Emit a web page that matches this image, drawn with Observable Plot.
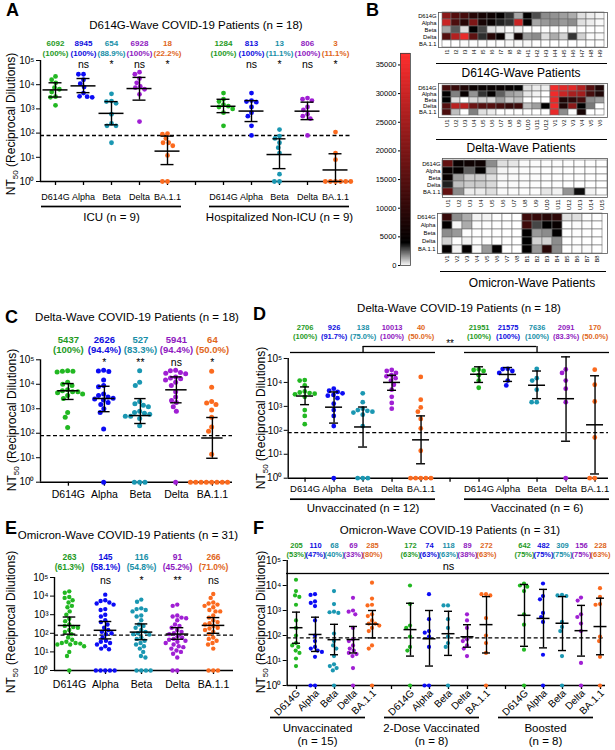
<!DOCTYPE html>
<html><head><meta charset="utf-8">
<script src="https://cdn.jsdelivr.net/npm/d3@7"></script>
<script src="https://cdn.jsdelivr.net/npm/@observablehq/plot@0.6"></script>
<style>
body{margin:0;background:#fff;}
#fig{position:relative;width:615px;height:750px;overflow:hidden;font-family:"Liberation Sans",Arial,Helvetica,sans-serif;color:#000;}
svg{overflow:visible;}
.t{position:absolute;white-space:nowrap;transform:translate(-50%,-50%);}
.letter{position:absolute;font-weight:bold;font-size:18px;}
.ylab{position:absolute;white-space:nowrap;font-size:12px;transform:translate(-50%,-50%) rotate(-90deg);}
.ylab sub{font-size:8px;}
.uline{position:absolute;height:0;border-top:1.6px solid #000;}
</style></head><body><div id="fig"></div>
<script>
// ---------------- DATA ----------------
const variants = ["D614G", "Alpha", "Beta", "Delta", "BA.1.1"];
const variantColors = ["#22b822", "#0c0cf5", "#1a97b2", "#a01fd4", "#fb6a1e"];
const textColors = ["#1e9a1e", "#0d0de0", "#178fa8", "#8e18c0", "#e0661a"];
const superscripts = ["⁰", "¹", "²", "³", "⁴", "⁵"];
const yTickValues = [1, 10, 100, 1000, 10000, 100000];
const LOD = 80;

// Panel A: D614G-wave
const aGroupLabels = ["ICU (n = 9)", "Hospitalized Non-ICU (n = 9)"];
const aGM = [[6092, 8945, 654, 6928, 18], [1284, 813, 13, 806, 3]];
const aPct = [["100%", "100%", "88.9%", "100%", "22.2%"], ["100%", "100%", "11.1%", "100%", "11.1%"]];
const aSig = [["", "ns", "*", "ns", "*"], ["", "ns", "*", "ns", "*"]];
const aLo = [[3100, 4700, 220, 2300, 5], [700, 300, 3.4, 360, 1]];
const aHi = [[12000, 18000, 2000, 20000, 75], [2500, 2200, 58, 1900, 14]];
const aICU = [
  [22000, 16000, 12000, 7500, 6500, 5000, 3200, 3000, 1400],
  [27000, 27000, 16000, 11000, 8000, 4500, 3300, 3200, 3000],
  [4200, 2100, 2000, 1700, 600, 250, 200, 200, 40],
  [33000, 27000, 18000, 12000, 8500, 7500, 6500, 4000, 300],
  [95, 90, 60, 40, 40, 30, 12, 1, 1]
];
const aNonICU = [
  [4500, 2500, 2000, 1500, 1300, 1200, 1000, 700, 200],
  [4500, 2200, 2000, 1900, 1200, 700, 500, 200, 80],
  [140, 75, 60, 40, 25, 15, 2, 1, 1],
  [2800, 2500, 2200, 1200, 900, 600, 500, 400, 80],
  [110, 15, 8, 1, 1, 1, 1, 1, 1]
];

// Panel C: Delta-wave all
const cGM = [5437, 2626, 527, 5941, 64];
const cPct = ["100%", "94.4%", "83.3%", "94.4%", "50.0%"];
const cSig = ["", "*", "**", "ns", "*"];
const cLo = [2400, 760, 250, 1750, 9.5];
const cHi = [10700, 8300, 2600, 20000, 440];
const cDots = [
  [36000, 34000, 34000, 32000, 12000, 10000, 9000, 6000, 5500, 5000, 5000, 4500, 4000, 3500, 2600, 700, 450, 170],
  [37000, 35000, 33000, 15000, 9000, 8000, 4000, 3500, 3000, 2700, 2500, 2300, 1800, 1500, 1000, 700, 150, 1],
  [36000, 12000, 9000, 2000, 1600, 1400, 1200, 800, 700, 650, 600, 500, 500, 400, 200, 1, 1, 1],
  [37000, 36000, 30000, 28000, 27000, 20000, 18000, 17000, 15000, 12000, 9000, 5000, 3000, 2200, 1800, 1200, 800, 1],
  [34000, 7500, 2000, 1700, 1500, 900, 450, 180, 120, 14, 1, 1, 1, 1, 1, 1, 1, 1]
];

// Panel D: Delta-wave by vaccination
const dGroupLabels = ["Unvaccinated (n = 12)", "Vaccinated (n = 6)"];
const dGM = [[2706, 926, 138, 10013, 40], [21951, 21575, 7636, 2091, 170]];
const dPct = [["100%", "91.7%", "75.0%", "100%", "50.0%"], ["100%", "100%", "100%", "83.3%", "50.0%"]];
const dLo = [[1180, 200, 20, 4700, 4], [10000, 11000, 2100, 35, 1.5]];
const dHi = [[6500, 4000, 940, 20000, 400], [45000, 42000, 30000, 117000, 19000]];
const dUnvacc = [
  [12500, 12000, 7500, 4200, 3800, 3600, 3400, 3200, 2500, 700, 400, 180],
  [5500, 4500, 4000, 3500, 3000, 2800, 2200, 1300, 700, 400, 150, 1],
  [3500, 1500, 800, 700, 650, 600, 550, 450, 150, 1, 1, 1],
  [33000, 30000, 25000, 20000, 18000, 15000, 12000, 8000, 5000, 2500, 1400, 800],
  [17000, 1900, 900, 600, 300, 120, 14, 1, 1, 1, 1, 1]
];
const dVacc = [
  [35000, 33000, 30000, 20000, 12000, 6000],
  [37000, 36000, 30000, 25000, 12000, 7500],
  [37000, 15000, 12000, 5000, 1500, 1500],
  [35000, 25000, 12000, 5500, 1500, 1],
  [34000, 8000, 1600, 50, 1, 1]
];
const dComparison = ["Beta", "Beta", "**"];

// Panel E: Omicron-wave all
const eGM = [263, 145, 116, 91, 266];
const ePct = ["61.3%", "58.1%", "54.8%", "45.2%", "71.0%"];
const eSig = ["", "ns", "*", "**", "ns"];
const eLo = [90, 50, 45, 48, 100];
const eHi = [750, 430, 320, 200, 700];
const eDots = [
  [18000, 15000, 9000, 8000, 6000, 4500, 3000, 2500, 1500, 1000, 600, 450, 300, 250, 220, 200, 150, 120, 90, 60, 45, 35, 30, 30, 28, 25, 25, 20, 10, 6, 1],
  [12000, 6000, 5500, 4500, 4000, 3500, 2000, 1800, 1000, 800, 500, 400, 300, 200, 150, 120, 100, 90, 60, 40, 35, 30, 25, 20, 15, 14, 1, 1, 1, 1, 1],
  [6500, 5000, 2200, 2000, 1800, 1500, 900, 800, 500, 300, 250, 200, 150, 120, 100, 90, 85, 60, 50, 40, 30, 25, 20, 15, 10, 6, 5, 1, 1, 1, 1],
  [3500, 3000, 900, 800, 700, 650, 500, 300, 250, 200, 150, 120, 100, 90, 70, 60, 50, 45, 40, 35, 30, 25, 20, 18, 15, 12, 10, 8, 5, 1, 1],
  [13000, 8000, 4500, 4000, 3500, 3000, 2500, 1800, 1500, 1500, 900, 700, 500, 400, 350, 300, 250, 200, 180, 150, 120, 90, 60, 50, 40, 30, 25, 15, 1, 1, 1]
];

// Panel F: Omicron-wave by vaccination
const fGroupLabels = ["Unvaccinated\n(n = 15)", "2-Dose Vaccinated\n(n = 8)", "Boosted\n(n = 8)"];
const fGM = [[205, 110, 68, 69, 285], [172, 74, 118, 89, 272], [642, 482, 309, 156, 228]];
const fPct = [["53%", "47%", "40%", "33%", "80%"], ["63%", "63%", "63%", "38%", "63%"], ["75%", "75%", "75%", "75%", "63%"]];
const fLo = [[49, 23, 17, 20, 80], [15, 6, 16, 34, 20], [37, 32, 25, 15, 17]];
const fHi = [[860, 540, 280, 230, 1000], [1950, 1000, 930, 270, 3600], [11000, 7000, 3600, 1600, 3100]];
const fUnvacc = [
  [17000, 6000, 4000, 3500, 1700, 400, 200, 100, 50, 40, 35, 25, 20, 12, 6],
  [4500, 4200, 2300, 2000, 1500, 400, 100, 60, 35, 30, 25, 22, 14, 1, 1],
  [6000, 1800, 900, 850, 800, 120, 60, 40, 30, 15, 7, 6, 5, 4, 1],
  [3200, 1000, 900, 700, 200, 70, 60, 40, 30, 25, 20, 18, 15, 5, 1],
  [13000, 3000, 1700, 1600, 700, 600, 400, 300, 300, 250, 200, 150, 40, 30, 1]
];
const f2Dose = [
  [10000, 1800, 250, 200, 90, 35, 25, 1],
  [4500, 450, 150, 130, 90, 35, 1, 1],
  [1600, 1600, 450, 200, 90, 50, 35, 1],
  [700, 400, 200, 70, 60, 40, 30, 15],
  [4500, 4500, 4000, 500, 100, 50, 20, 1]
];
const fBoosted = [
  [12000, 10000, 9000, 6000, 700, 270, 27, 1],
  [12000, 3800, 2800, 800, 550, 350, 17, 1],
  [4200, 4000, 3800, 350, 220, 150, 15, 1],
  [3300, 2500, 700, 550, 300, 150, 8, 1],
  [7800, 3500, 1800, 1700, 90, 60, 14, 1]
];
const fOverallSig = "ns";

// Panel B: heatmaps (NT50 per patient)
const hmRows = ["D614G", "Alpha", "Beta", "Delta", "BA.1.1"];
const hm1Cols = ["I1","I2","I3","I4","I5","I6","I7","I8","I9","H1","H2","H3","H4","H5","H6","H7","H8","H9"];
const hm1Vals = [
  [22000, 15000, 13000, 9000, 7000, 6000, 4500, 3200, 1400, 4200, 2800, 1800, 1700, 1500, 1300, 500, 300, 150],
  [30000, 14000, 9000, 20000, 7000, 5000, 3500, 3200, 30000, 4500, 1400, 1600, 1800, 1600, 1800, 500, 300, 100],
  [1400, 2600, 500, 4000, 2900, 500, 250, 40, 250, 20, 10, 20, 60, 30, 80, 20, 10, 1],
  [15000, 27000, 34000, 16000, 3300, 9000, 5000, 400, 6000, 1600, 1800, 500, 1300, 700, 3200, 700, 80, 80],
  [1, 1, 60, 40, 40, 30, 12, 95, 90, 110, 15, 8, 1, 1, 1, 1, 1, 1]
];
const hm2Cols = ["U1","U2","U3","U4","U5","U6","U7","U8","U9","U10","U11","U12","V1","V2","V3","V4","V5","V6"];
const hm2Vals = [
  [13000, 11000, 8000, 5500, 5200, 5000, 5000, 4800, 4200, 500, 300, 250, 35000, 33000, 33000, 27000, 15000, 8000],
  [4500, 2000, 5000, 1700, 3200, 4500, 2500, 1500, 1300, 400, 200, 1, 35000, 30000, 26000, 25000, 13000, 8000],
  [4000, 500, 1, 600, 700, 600, 1500, 800, 1000, 1, 1, 1, 34000, 8000, 10000, 13000, 1800, 1500],
  [15000, 28000, 28000, 18000, 15000, 15000, 13000, 11000, 12000, 1000, 1500, 4000, 35000, 8000, 22000, 4000, 2100, 1],
  [14000, 1000, 1, 2000, 500, 300, 1, 14, 1, 1, 1, 1, 34000, 1800, 50, 7000, 1, 1]
];
const hm3Cols = ["U1","U2","U3","U4","U5","U6","U7","U8","U9","U10","U11","U12","U13","U14","U15"];
const hm3Vals = [
  [17000, 5000, 6000, 6000, 1800, 500, 400, 100, 60, 50, 40, 30, 30, 25, 10],
  [5000, 4500, 2500, 4200, 1000, 150, 100, 60, 40, 30, 25, 20, 15, 14, 1],
  [5000, 1500, 800, 800, 500, 100, 80, 60, 40, 30, 20, 15, 10, 5, 1],
  [3500, 1000, 800, 800, 600, 100, 80, 60, 40, 30, 25, 20, 15, 10, 1],
  [17000, 1800, 300, 300, 500, 100, 60, 50, 40, 400, 200, 1700, 3800, 200, 30]
];
const hm4Cols = ["V1","V2","V3","V4","V5","V6","V7","V8","B1","B2","B3","B4","B5","B6","B7","B8"];
const hm4Vals = [
  [11000, 1800, 1300, 200, 200, 50, 30, 1, 12000, 11000, 9000, 10000, 500, 500, 60, 27],
  [4500, 150, 1300, 60, 40, 30, 14, 1, 12000, 2900, 4000, 5000, 17, 60, 30, 1],
  [1800, 1600, 40, 20, 15, 10, 5, 1, 4200, 1600, 1800, 4200, 15, 40, 20, 1],
  [700, 20, 200, 30, 25, 20, 10, 1, 4000, 700, 700, 1800, 8, 30, 20, 1],
  [4500, 200, 4500, 90, 1600, 4500, 14, 1, 4200, 1600, 9000, 1800, 14, 60, 80, 1]
];
const colorbarTicks = [0, 5000, 10000, 15000, 20000, 25000, 30000, 35000];
const colorStops = [0, 4000, 37000];
const colorStopColors = ["#ffffff", "#000000", "#ff2e2e"];

// ---------------- RENDER ----------------
const FONT = "'Liberation Sans', Arial, Helvetica, sans-serif";
const fig = document.getElementById("fig");
function place(node, left, top) {
  node.style.position = "absolute"; node.style.left = left + "px"; node.style.top = top + "px";
  fig.appendChild(node);
}
function addText(cls, html, x, y, style) {
  const d = document.createElement("div");
  d.className = cls; d.innerHTML = html;
  d.style.left = x + "px"; d.style.top = y + "px";
  if (style) Object.assign(d.style, style);
  fig.appendChild(d);
}
const supFmt = d => "10" + superscripts[Math.round(Math.log10(d))];
const C = () => "c";

function dotPanel(p) {
  const dom = [], cats = [], dots = [], stats = [], mids = [];
  p.groups.forEach((g, gi) => {
    if (gi > 0) dom.push("gap" + gi);
    variants.forEach((v, vi) => {
      const key = gi + "|" + v;
      dom.push(key);
      cats.push({key, label: v, gi, vi});
      g.dots[vi].forEach(val => dots.push({key, v: val, vi}));
      stats.push({key, vi, gm: g.gm[vi], pct: "(" + g.pct[vi] + ")", sig: g.sig ? g.sig[vi] : "", lo: g.lo[vi], hi: g.hi[vi]});
    });
    if (g.label) mids.push({key: gi + "|Beta", label: g.label});
  });
  const style = {fontFamily: FONT, fontSize: "10px", overflow: "visible", background: "none", color: "#000"};
  const common = {width: p.width, height: p.height, marginTop: p.mt, marginBottom: p.mb, style};
  const base = Plot.plot({
    ...common, marginLeft: p.axisLeft, marginRight: p.width - p.axisRight,
    x: {domain: [0, 1], axis: null},
    y: {type: "log", domain: [1, 1e5], ticks: yTickValues, tickFormat: supFmt, tickSize: 4, tickPadding: 2, label: null},
    marks: [
      Plot.ruleX([0], {strokeWidth: 1.4}),
      Plot.ruleY([1], {strokeWidth: 1.4}),
      Plot.ruleY([LOD], {strokeDasharray: "4,2.5", strokeWidth: 1.4})
    ]
  });
  place(base, p.left, p.top);
  const marks = [
    Plot.ruleX(dom, {fx: d => d, x: C, y1: () => 1, y2: () => 1, insetTop: 4, strokeWidth: 1.3}),
    Plot.dot(dots, Plot.dodgeX({anchor: "middle", padding: p.pad}, {fx: "key", y: "v", r: p.r, dx: -p.step / 2, fill: d => variantColors[d.vi]})),
    Plot.ruleX(stats, {fx: "key", x: C, y1: "lo", y2: "hi", strokeWidth: 1.4}),
    Plot.tickY(stats, {fx: "key", x: C, y: "lo", insetLeft: p.capInset, insetRight: p.capInset, strokeWidth: 1.4}),
    Plot.tickY(stats, {fx: "key", x: C, y: "hi", insetLeft: p.capInset, insetRight: p.capInset, strokeWidth: 1.4}),
    Plot.tickY(stats, {fx: "key", x: C, y: "gm", insetLeft: p.meanInset, insetRight: p.meanInset, strokeWidth: 1.5}),
    Plot.text(stats, {fx: "key", x: C, y: () => 1e5, dy: p.gmDy, text: d => String(d.gm), fill: d => textColors[d.vi], fontWeight: "bold", fontSize: p.numSize}),
    Plot.text(stats, {fx: "key", x: C, y: () => 1e5, dy: p.pctDy, text: "pct", fill: d => textColors[d.vi], fontWeight: "bold", fontSize: p.numSize}),
    Plot.text(stats.filter(s => s.sig), {fx: "key", x: C, y: () => 1e5, dy: p.sigDy, text: "sig", fontSize: p.sigSize}),
    Plot.text(cats, {fx: "key", x: C, y: () => 1, dy: p.catDy, dx: p.catDx || 0, text: "label", fontSize: p.catSize, rotate: p.catRotate || 0, textAnchor: p.catRotate ? "end" : "middle"})
  ];
  if (mids.length) {
    marks.push(Plot.ruleY(cats, {fx: "key", y: () => 1, dy: p.ulDy, dx: p.ulDx || 0, strokeWidth: 1.7}));
    marks.push(Plot.text(mids, {fx: "key", x: C, y: () => 1, dy: p.glDy, dx: p.glDx || 0, text: "label", fontSize: 11.5, lineAnchor: "top", lineHeight: 1.12}));
  }
  if (p.extra) marks.push(...p.extra(dom, cats));
  const fp = Plot.plot({
    ...common, marginLeft: p.facetLeft, marginRight: p.width - p.facetLeft - p.step * dom.length,
    fx: {domain: dom, padding: 0, axis: null},
    x: {type: "band", domain: ["c"], padding: 0, axis: null},
    y: {type: "log", domain: [1, 1e5], axis: null},
    color: {type: "identity"},
    marks
  });
  place(fp, p.left, p.top);
}

// Panel A
dotPanel({
  left: 0, top: 0, width: 352, height: 226, mt: 60, mb: 45,
  axisLeft: 40, axisRight: 350, facetLeft: 41, step: 28,
  r: 2.4, pad: 0.3, capInset: 7.5, meanInset: 1.5,
  numSize: 8, gmDy: -17, pctDy: -7, sigDy: 4, sigSize: 10.5,
  catDy: 16, catSize: 9, ulDy: 25, glDy: 30,
  groups: [0, 1].map(gi => ({label: aGroupLabels[gi], gm: aGM[gi], pct: aPct[gi], sig: aSig[gi], lo: aLo[gi], hi: aHi[gi], dots: gi === 0 ? aICU : aNonICU}))
});

// Panel C
dotPanel({
  left: 0, top: 300, width: 240, height: 202, mt: 59.3, mb: 20.3,
  axisLeft: 40, axisRight: 232, facetLeft: 48.6, step: 36.7,
  r: 2.5, pad: 0.3, capInset: 11.8, meanInset: 6.8,
  numSize: 9.5, gmDy: -20, pctDy: -9.5, sigDy: 3, sigSize: 10.5,
  catDy: 12.5, catSize: 10.5,
  groups: [{gm: cGM, pct: cPct, sig: cSig, lo: cLo, hi: cHi, dots: cDots}]
});

// Panel D
const D = {
  left: 250, top: 300, width: 365, height: 217.7, mt: 58, mb: 40,
  axisLeft: 37.7, axisRight: 358, facetLeft: 36.95, step: 29.5,
  r: 2.4, pad: 0.3, capInset: 10, meanInset: 6,
  numSize: 7.5, gmDy: -31, pctDy: -22, sigDy: 0, sigSize: 10,
  catDy: 11, catSize: 9.5, ulDy: 21, glDy: 24.5,
  groups: [
    {label: dGroupLabels[0], gm: dGM[0], pct: dPct[0], lo: dLo[0], hi: dHi[0], dots: dUnvacc},
    {label: dGroupLabels[1], gm: dGM[1], pct: dPct[1], lo: dLo[1], hi: dHi[1], dots: dVacc}
  ]
};
D.extra = (dom, cats) => {
  const a = "0|" + dComparison[0], b = "1|" + dComparison[1];
  const ia = dom.indexOf(a), ib = dom.indexOf(b);
  const inner = dom.slice(ia + 1, ib);
  const half = D.step / 2;
  return [
    Plot.ruleY(cats, {fx: "key", y: () => 1e5, dy: -6, strokeWidth: 1.3}),
    Plot.ruleY(inner, {fx: d => d, y: () => 1e5, dy: -12, strokeWidth: 1.3}),
    Plot.ruleY([a], {fx: d => d, y: () => 1e5, dy: -12, insetLeft: half, strokeWidth: 1.3}),
    Plot.ruleY([b], {fx: d => d, y: () => 1e5, dy: -12, insetRight: half, strokeWidth: 1.3}),
    Plot.ruleX([a, b], {fx: d => d, x: C, y1: () => 1e5, y2: () => 1e5, dy: -6, insetBottom: 6, strokeWidth: 1.3}),
    Plot.text([inner[Math.floor(inner.length / 2)]], {fx: d => d, x: C, y: () => 1e5, dy: -15, text: () => dComparison[2], fontSize: 10})
  ];
};
dotPanel(D);

// Panel E
dotPanel({
  left: 0, top: 500, width: 240, height: 190, mt: 77, mb: 20,
  axisLeft: 54, axisRight: 233, facetLeft: 50, step: 36.5,
  r: 2.2, pad: 0.3, capInset: 11.7, meanInset: 6.7,
  numSize: 8.5, gmDy: -20, pctDy: -10, sigDy: 3, sigSize: 10.5,
  catDy: 14, catSize: 10.5,
  groups: [{gm: eGM, pct: ePct, sig: eSig, lo: eLo, hi: eHi, dots: eDots}]
});

// Panel F
const F = {
  left: 250, top: 500, width: 365, height: 250, mt: 60, mb: 65,
  axisLeft: 36.7, axisRight: 355, facetLeft: 35.5, step: 19,
  r: 2.1, pad: 0.3, capInset: 5.5, meanInset: 3,
  numSize: 7.5, gmDy: -15, pctDy: -6, sigDy: 0, sigSize: 10,
  catDy: 6, catDx: 2, catSize: 10, catRotate: -45, ulDy: 32, ulDx: -16, glDy: 37.5, glDx: -17,
  groups: [
    {label: fGroupLabels[0], gm: fGM[0], pct: fPct[0], lo: fLo[0], hi: fHi[0], dots: fUnvacc},
    {label: fGroupLabels[1], gm: fGM[1], pct: fPct[1], lo: fLo[1], hi: fHi[1], dots: f2Dose},
    {label: fGroupLabels[2], gm: fGM[2], pct: fPct[2], lo: fLo[2], hi: fHi[2], dots: fBoosted}
  ]
};
F.extra = (dom) => [
  Plot.ruleY(dom, {fx: d => d, y: () => 1e5, dy: 13, strokeWidth: 1.3}),
  Plot.text(["1|Beta"], {fx: d => d, x: C, y: () => 1e5, dy: 6, text: () => fOverallSig, fontSize: 11})
];
dotPanel(F);

// Heatmaps
const heatColor = {type: "linear", domain: colorStops, range: colorStopColors, interpolate: "rgb"};
function heatmap(cols, vals, g) {
  const data = [];
  hmRows.forEach((r, ri) => cols.forEach((c, ci) => data.push({r, c, v: vals[ri][ci]})));
  const svg = Plot.plot({
    width: g.width, height: g.height, marginLeft: g.ml, marginRight: g.width - g.ml - g.fw, marginTop: g.mt, marginBottom: g.height - g.mt - g.fh,
    style: {fontFamily: FONT, fontSize: "5.8px", overflow: "visible", background: "none"},
    x: {domain: cols, padding: 0, tickRotate: -90, tickSize: 0, tickPadding: 2, label: null},
    y: {domain: hmRows, padding: 0, tickSize: 0, tickPadding: 2, label: null},
    color: heatColor,
    marks: [
      Plot.cell(data, {x: "c", y: "r", fill: "v", stroke: "#6e6e6e", strokeWidth: 0.6}),
      Plot.frame({stroke: "#555", strokeWidth: 0.8})
    ]
  });
  place(svg, g.left, g.top);
}
heatmap(hm1Cols, hm1Vals, {left: 398, top: 0, width: 214, height: 62, ml: 40, mt: 12, fw: 169, fh: 35});
heatmap(hm2Cols, hm2Vals, {left: 398, top: 71, width: 214, height: 62, ml: 40, mt: 12, fw: 169, fh: 34});
heatmap(hm3Cols, hm3Vals, {left: 402, top: 146, width: 210, height: 66, ml: 40, mt: 12, fw: 165, fh: 39});
heatmap(hm4Cols, hm4Vals, {left: 397, top: 201, width: 215, height: 66, ml: 40, mt: 12, fw: 170, fh: 40});

// Colorbar
const cbLevels = d3.range(0, colorStops[2] + 1, 100);
const cb = Plot.plot({
  width: 48, height: 230, marginLeft: 34, marginRight: 4, marginTop: 13, marginBottom: 5,
  style: {fontFamily: FONT, fontSize: "7.5px", overflow: "visible", background: "none"},
  y: {domain: [0, colorStops[2]], ticks: colorbarTicks, tickFormat: d => String(d), tickSize: 2, tickPadding: 2, label: null},
  color: heatColor,
  marks: [
    Plot.ruleY(cbLevels, {y: d => d, stroke: d => d, strokeWidth: 1.2}),
    Plot.frame({stroke: "#444", strokeWidth: 0.8})
  ]
});
place(cb, 366, 40);

// Text: letters, titles, y labels, heatmap captions
addText("letter", "A", 6, 0);
addText("letter", "B", 366, 0);
addText("letter", "C", 5, 307);
addText("letter", "D", 253, 304);
addText("letter", "E", 5, 518);
addText("letter", "F", 253, 518);
addText("t", "D614G-Wave COVID-19 Patients (n = 18)", 196, 25, {fontSize: "11.5px"});
addText("t", "Delta-Wave COVID-19 Patients (n = 18)", 137, 317, {fontSize: "11.5px"});
addText("t", "Delta-Wave COVID-19 Patients (n = 18)", 459, 308, {fontSize: "11.5px"});
addText("t", "Omicron-Wave COVID-19 Patients (n = 31)", 128, 535, {fontSize: "11.5px"});
addText("t", "Omicron-Wave COVID-19 Patients (n = 31)", 450, 530, {fontSize: "11.5px"});
const ylab = "NT<sub>50</sub> (Reciprocal Dilutions)";
addText("ylab", ylab, 12, 124);
addText("ylab", ylab, 13, 420);
addText("ylab", ylab, 262, 418);
addText("ylab", ylab, 12, 622);
addText("ylab", ylab, 262, 622);
addText("t", "D614G-Wave Patients", 521, 73, {fontSize: "12px"});
addText("t", "Delta-Wave Patients", 521, 148, {fontSize: "12px"});
addText("t", "Omicron-Wave Patients", 532, 283, {fontSize: "12px"});
[[436, 63, 171], [436, 139, 171], [440, 271, 166]].forEach(([x, y, w]) => {
  const d = document.createElement("div"); d.className = "uline";
  d.style.left = x + "px"; d.style.top = y + "px"; d.style.width = w + "px"; fig.appendChild(d);
});
</script></body></html>
